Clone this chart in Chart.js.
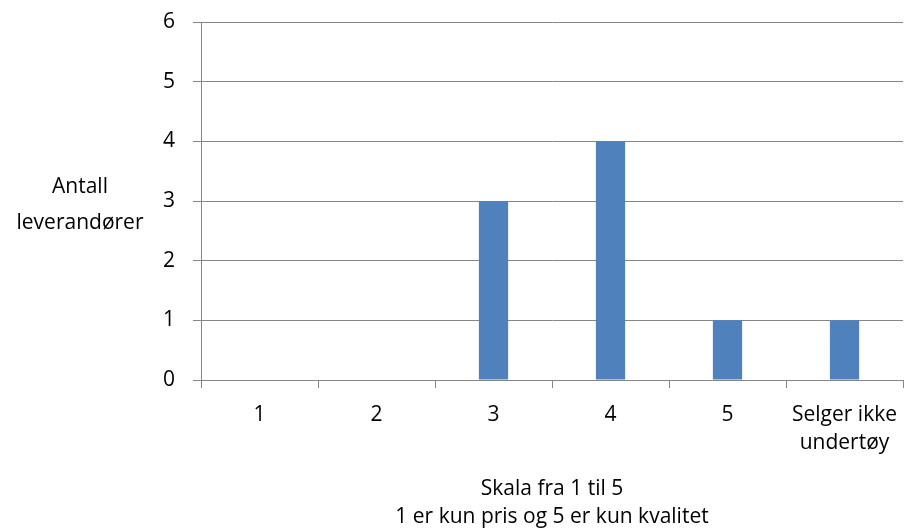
<!DOCTYPE html>
<html>
<head>
<meta charset="utf-8">
<script src="https://cdn.jsdelivr.net/npm/chart.js@4/dist/chart.umd.min.js"></script>
<style>
  html, body { margin: 0; padding: 0; background: #fff; }
  #wrap { width: 905px; height: 532px; }
</style>
</head>
<body>
<div id="wrap"><canvas id="chart-area" width="905" height="532"></canvas></div>
<script>
var categories = ['1', '2', '3', '4', '5', ['Selger ikke', 'undertøy']];
var antall = [0, 0, 3, 4, 1, 1];
var yTicks = [0, 1, 2, 3, 4, 5, 6];
var yTitle = ['Antall', 'leverandører'];
var xTitle = ['Skala fra 1 til 5', '1 er kun pris og 5 er kun kvalitet'];

var fontFamily = '"Open Sans", sans-serif';
var fontSize = 21;
var gridColor = '#868686';

// horizontal y title, left of the tick labels
var yTitlePlugin = {
  id: 'yTitle',
  afterDraw: function(chart) {
    var ctx = chart.ctx;
    var area = chart.chartArea;
    var mid = (area.top + area.bottom) / 2;
    ctx.save();
    ctx.font = fontSize + 'px ' + fontFamily;
    ctx.fillStyle = '#000';
    ctx.textAlign = 'center';
    ctx.textBaseline = 'middle';
    ctx.fillText(yTitle[0], 80, mid - 14);
    ctx.fillText(yTitle[1], 80, mid + 22);
    ctx.restore();
  }
};

var config = {
  type: 'bar',
  data: {
    labels: categories,
    datasets: [{
      data: antall,
      backgroundColor: '#4F81BD',
      categoryPercentage: 1,
      barPercentage: 0.25
    }]
  },
  options: {
    responsive: false,
    animation: false,
    layout: { padding: { left: 0, right: 2, top: 22, bottom: 0 } },
    plugins: {
      legend: { display: false },
      tooltip: { enabled: false }
    },
    scales: {
      x: {
        offset: true,
        grid: {
          offset: true,
          drawOnChartArea: false,
          color: gridColor,
          tickLength: 8
        },
        border: { color: gridColor },
        ticks: {
          color: '#000',
          font: { family: fontFamily, size: fontSize, lineHeight: 1.33 },
          padding: 13,
          maxRotation: 0
        },
        title: {
          display: true,
          text: xTitle,
          color: '#000',
          font: { family: fontFamily, size: fontSize, lineHeight: 1.33 },
          padding: { top: 0, bottom: 1 }
        },
        afterFit: function(scale) {
          scale.height = 152;
          scale.paddingLeft = 0;
          scale.paddingRight = 0;
        }
      },
      y: {
        min: 0,
        max: 6,
        afterBuildTicks: function(scale) {
          scale.ticks = yTicks.map(function(v) { return { value: v }; });
        },
        grid: { color: gridColor, tickLength: 8 },
        border: { color: gridColor },
        ticks: {
          color: '#000',
          font: { family: fontFamily, size: fontSize },
          padding: 18
        },
        afterFit: function(scale) {
          scale.width = 201;
          scale.paddingTop = 0;
          scale.paddingBottom = 0;
        }
      }
    }
  },
  plugins: [yTitlePlugin]
};

var ctx = document.getElementById('chart-area').getContext('2d');
window.myBar = new Chart(ctx, config);
</script>
</body>
</html>
